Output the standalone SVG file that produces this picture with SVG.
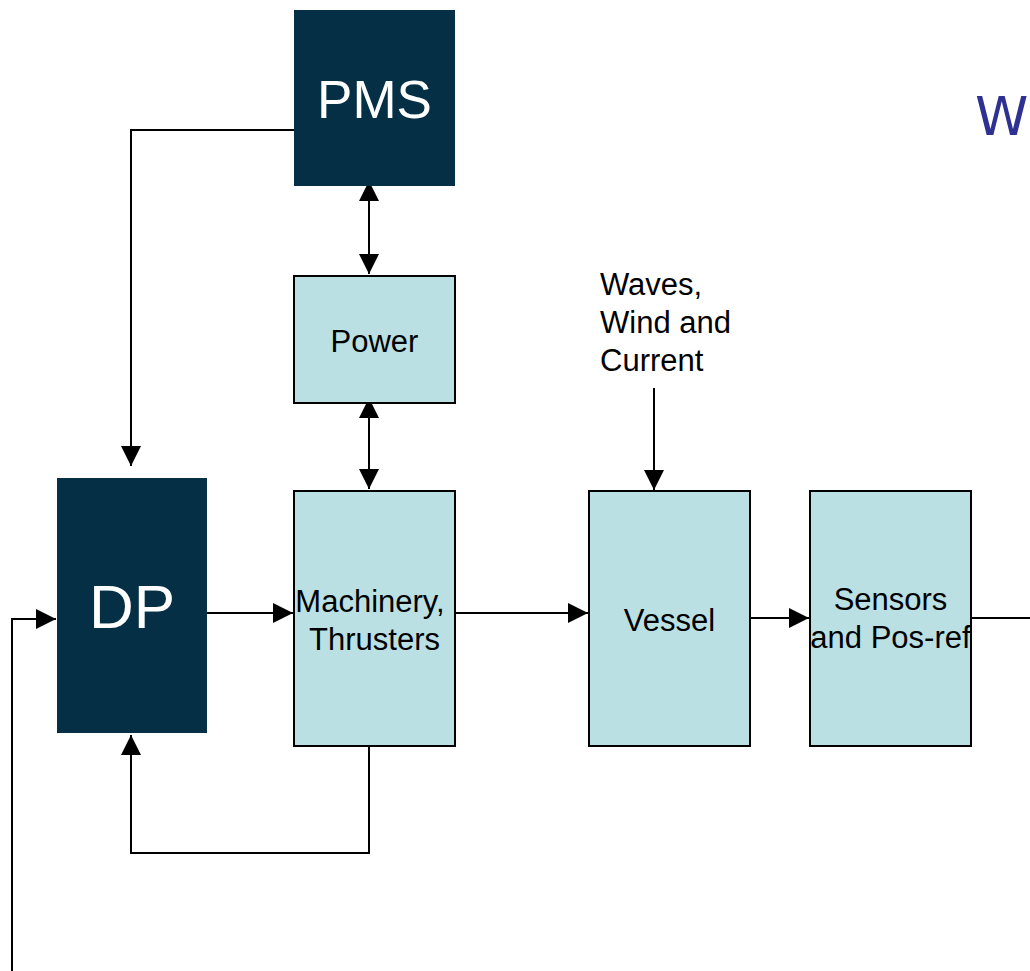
<svg xmlns="http://www.w3.org/2000/svg" width="1030" height="971" viewBox="0 0 1030 971">
<defs>
<style>
.dark{fill:#042f44;}
.light{fill:#bbe0e3;stroke:#000;stroke-width:2;}
.wt{fill:#fff;font-family:"Liberation Sans",Arial,sans-serif;text-anchor:middle;}
.bt{fill:#000;font-family:"Liberation Sans",Arial,sans-serif;font-size:31px;text-anchor:middle;}
.st{text-anchor:start;}
.ln{fill:none;stroke:#000;stroke-width:2;}
</style>
<marker id="ah" markerUnits="userSpaceOnUse" viewBox="0 0 20 20" markerWidth="20" markerHeight="20" refX="20" refY="10" orient="auto-start-reverse">
<path d="M0,0 L20,10 L0,20 Z" fill="#000"/>
</marker>
</defs>
<rect width="1030" height="971" fill="#fff"/>
<text x="975" y="135" font-family="'DejaVu Sans',sans-serif" font-size="54" fill="#2e3192">W</text>
<g id="connectors">
<path class="ln" d="M294,130 H131 V466" marker-end="url(#ah)"/>
<path class="ln" d="M369,181 V274" marker-start="url(#ah)" marker-end="url(#ah)"/>
<path class="ln" d="M369,398 V489" marker-start="url(#ah)" marker-end="url(#ah)"/>
<path class="ln" d="M207,613 H293" marker-end="url(#ah)"/>
<path class="ln" d="M455,613 H588" marker-end="url(#ah)"/>
<path class="ln" d="M654,388 V490" marker-end="url(#ah)"/>
<path class="ln" d="M750,618 H809" marker-end="url(#ah)"/>
<path class="ln" d="M971,618 H1030"/>
<path class="ln" d="M369,746 V853 H131 V735" marker-end="url(#ah)"/>
<path class="ln" d="M12,971 V619 H56" marker-end="url(#ah)"/>
</g>
<g id="pms">
<rect class="dark" x="294" y="10" width="161" height="176"/>
<text class="wt" x="374.5" y="118" font-size="53">PMS</text>
</g>
<g id="power">
<rect class="light" x="294" y="276" width="161" height="127"/>
<text class="bt" x="374.5" y="352">Power</text>
</g>
<g id="dp">
<rect class="dark" x="57" y="478" width="150" height="255"/>
<text class="wt" x="132" y="628" font-size="62">DP</text>
</g>
<g id="machinery">
<rect class="light" x="294" y="491" width="161" height="255"/>
<text class="bt" x="370" y="612">Machinery,</text>
<text class="bt" x="374.5" y="650">Thrusters</text>
</g>
<g id="vessel">
<rect class="light" x="589" y="491" width="161" height="255"/>
<text class="bt" x="669.5" y="631">Vessel</text>
</g>
<g id="sensors">
<rect class="light" x="810" y="491" width="161" height="255"/>
<text class="bt" x="890.5" y="610">Sensors</text>
<text class="bt" x="890.5" y="648">and Pos-ref</text>
</g>
<g id="disturbance">
<text class="bt st" x="600" y="295">Waves,</text>
<text class="bt st" x="600" y="333">Wind and</text>
<text class="bt st" x="600" y="371">Current</text>
</g>
</svg>
